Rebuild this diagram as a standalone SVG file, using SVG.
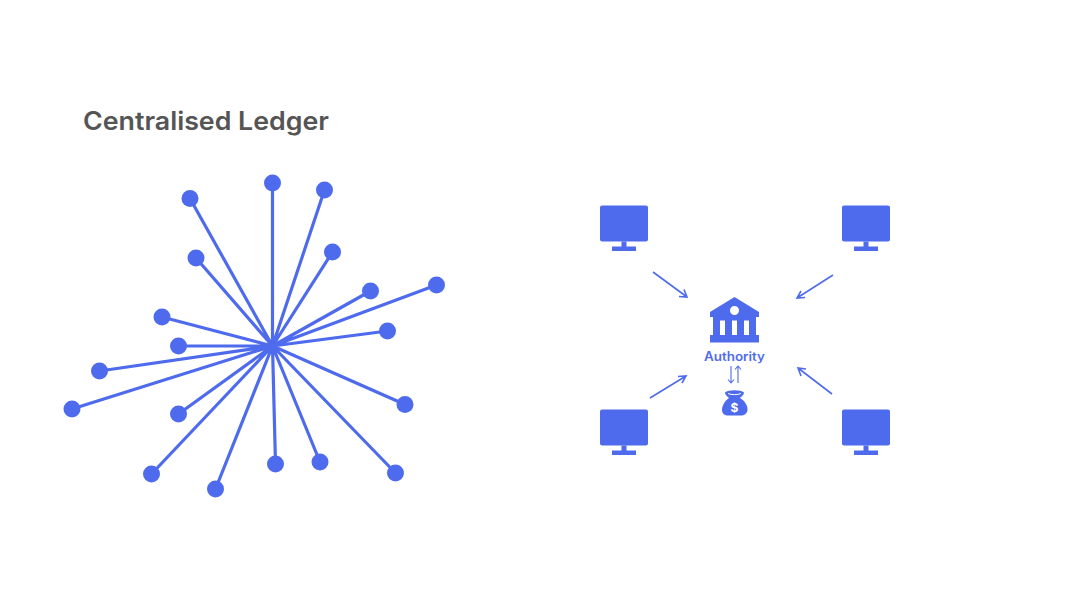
<svg xmlns="http://www.w3.org/2000/svg" width="1066" height="600" viewBox="0 0 1066 600">
<style>
.spoke{stroke:#4f6bed;stroke-width:3.200;fill:none}
.dot{fill:#4f6bed}
.arr{stroke:#4f6bed;stroke-width:1.600;fill:none}
.ic{fill:#4f6bed}
.title{font-family:"Inter","Liberation Sans",sans-serif;font-weight:600;font-size:25.5px;fill:#555555}
.lab{font-family:"Inter","Liberation Sans",sans-serif;font-weight:600;font-size:12.5px;fill:#4f6bed}
</style>
<defs>
<g id="pc">
<rect x="0" y="0" width="48" height="36" rx="2"/>
<rect x="21.5" y="36" width="5" height="5.5"/>
<rect x="12" y="41" width="24" height="4.5"/>
</g>
</defs>
<rect width="1066" height="600" fill="#ffffff"/>
<text class="title" x="83" y="130" textLength="246" lengthAdjust="spacingAndGlyphs">Centralised Ledger</text>
<g id="connectors">
<path class="spoke" d="M272.500 346L190 198.500M272.500 346L272.500 183M272.500 346L324.500 190M272.500 346L196 258M272.500 346L332.500 252M272.500 346L370.500 291M272.500 346L436.500 285M272.500 346L162 317M272.500 346L387.500 331M272.500 346L178.500 346M272.500 346L99.500 371M272.500 346L72 409M272.500 346L405 404.500M272.500 346L178.500 414M272.500 346L151.500 474M272.500 346L215.500 489M272.500 346L275.500 464M272.500 346L320 462M272.500 346L395.500 473"/>
<path class="arr" d="M653 272L687 297M679 296.500L687 297L684 289.500"/>
<path class="arr" d="M833 275L797 298M805 297.500L797 298L801 291"/>
<path class="arr" d="M650 398L686 376M678 376.500L686 376L682 383"/>
<path class="arr" d="M832 394L798 368M801 376L798 368L806 369"/>
<path class="arr" stroke-width="1.200" style="stroke-width:1.100" d="M731 366V383M728 379.500L731 383L734 379.500"/>
<path class="arr" style="stroke-width:1.100" d="M738 383V366M735 369.500L738 366L741 369.500"/>
</g>
<g id="ledger-nodes" class="dot">
<circle cx="190" cy="198.500" r="8.500"/><circle cx="272.500" cy="183" r="8.500"/><circle cx="324.500" cy="190" r="8.500"/><circle cx="196" cy="258" r="8.500"/><circle cx="332.500" cy="252" r="8.500"/><circle cx="370.500" cy="291" r="8.500"/><circle cx="436.500" cy="285" r="8.500"/><circle cx="162" cy="317" r="8.500"/><circle cx="387.500" cy="331" r="8.500"/><circle cx="178.500" cy="346" r="8.500"/><circle cx="99.500" cy="371" r="8.500"/><circle cx="72" cy="409" r="8.500"/><circle cx="405" cy="404.500" r="8.500"/><circle cx="178.500" cy="414" r="8.500"/><circle cx="151.500" cy="474" r="8.500"/><circle cx="215.500" cy="489" r="8.500"/><circle cx="275.500" cy="464" r="8.500"/><circle cx="320" cy="462" r="8.500"/><circle cx="395.500" cy="473" r="8.500"/>
</g>
<g id="computer-tl" class="ic"><use href="#pc" x="600" y="205.500"/></g>
<g id="computer-tr" class="ic"><use href="#pc" x="842" y="205.500"/></g>
<g id="computer-bl" class="ic"><use href="#pc" x="600" y="409.500"/></g>
<g id="computer-br" class="ic"><use href="#pc" x="842" y="409.500"/></g>
<g id="authority">
<path class="ic" fill-rule="evenodd" d="M734.500 297L759 312V317H756V335H759V342.500H710V335H713V317H710V312ZM734.500 306A4.500 4.500 0 1 0 734.500 315A4.500 4.500 0 1 0 734.500 306ZM720 320.500V335H725V320.500ZM732 320.500V335H737V320.500ZM744 320.500V335H749V320.500Z"/>
<text class="lab" x="734.500" y="361" text-anchor="middle" textLength="61" lengthAdjust="spacingAndGlyphs">Authority</text>
</g>
<g id="money-bag">
<path class="ic" d="M725 392.500C728 389.500 741 389.500 744 392.500C744 395 741 397 740 398C745 401 748 406 747.500 410C747 414 744 415.500 741 415.500H728C725 415.500 722 414 722 410C722 406 724.500 401 729 398C728 397 725 395 725 392.500Z"/>
<path d="M728 393.500C731 395 738 395 741 393.500" stroke="#fff" stroke-width="1" fill="none"/>
<text x="734.500" y="412" text-anchor="middle" font-family="Inter,'Liberation Sans',sans-serif" font-weight="700" font-size="12" fill="#fff">$</text>
</g>
</svg>
